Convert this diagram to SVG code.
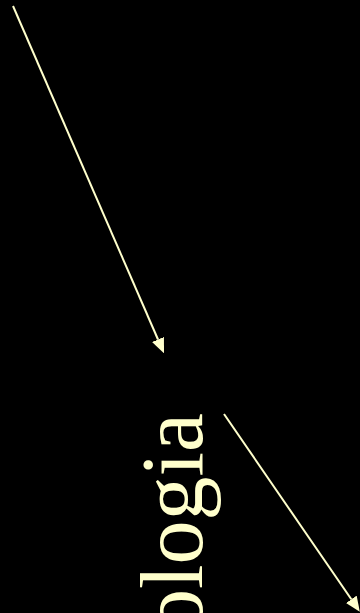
<svg xmlns="http://www.w3.org/2000/svg" width="360" height="613" viewBox="0 0 360 613">
  <defs>
    <style>
      .lbl { font-family: "Liberation Serif", "Times New Roman", serif; font-size: 88px; fill: #FFFFCC; }
      .conn { stroke: #FFFFCC; stroke-width: 2; fill: none; marker-end: url(#arrow); }
    </style>
    <marker id="arrow" viewBox="0 0 15 13" markerWidth="15" markerHeight="13" markerUnits="userSpaceOnUse" refX="0" refY="6.5" orient="auto">
      <path d="M0,0 L15,6.5 L0,13 z" fill="#FFFFCC"/>
    </marker>
  </defs>
  <rect x="0" y="0" width="360" height="613" fill="#000000"/>
  <g id="node-label">
    <text class="lbl" transform="translate(202,633) rotate(-90)" x="0" y="0">ologia</text>
  </g>
  <g id="connectors">
    <line class="conn" x1="13" y1="6" x2="158" y2="339.5"/>
    <line class="conn" x1="224" y1="414" x2="351.3" y2="599.3"/>
  </g>
</svg>
